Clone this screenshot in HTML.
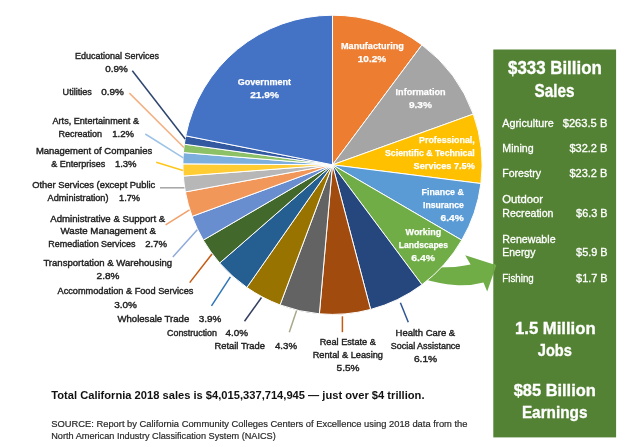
<!DOCTYPE html>
<html><head><meta charset="utf-8"><style>
html,body{margin:0;padding:0;background:#fff;width:640px;height:447px;overflow:hidden}
svg{display:block;filter:blur(0.7px)}
text{font-family:"Liberation Sans",sans-serif;white-space:pre}
.lab{font-size:9.3px;fill:#222;stroke:#222;stroke-width:0.4px}
.in{font-size:9.3px;font-weight:bold;fill:#fff;stroke:#fff;stroke-width:0.25px}
.bh{font-size:18.3px;font-weight:bold;fill:#fff;stroke:#fff;stroke-width:0.35px}
.bi{font-size:10.6px;fill:#fff;stroke:#fff;stroke-width:0.3px}
.bb{font-size:17px;font-weight:bold;fill:#fff;stroke:#fff;stroke-width:0.35px}
.tot{font-size:11px;font-weight:bold;fill:#111}
.src{font-size:9.3px;fill:#2a2a2a;stroke:#2a2a2a;stroke-width:0.2px}
</style></head><body>
<svg width="640" height="447" viewBox="0 0 640 447">
<rect width="640" height="447" fill="#fff"/>
<path d="M420,268 L455,267.1 Q464,266 470.6,264.6 L465.2,255.3 L496.3,265.3 L487.2,291.5 L483.5,282.4 Q470,286 455,285 Q440,284 420,278 Z" fill="#70AD47"/>
<g stroke="#fff" stroke-width="1" stroke-linejoin="round">
<path d="M332.50,164.80L332.50,15.20A149.6,149.6 0 0 1 421.95,44.89Z" fill="#ED7D31"/>
<path d="M332.50,164.80L421.95,44.89A149.6,149.6 0 0 1 473.26,114.12Z" fill="#A5A5A5"/>
<path d="M332.50,164.80L473.26,114.12A149.6,149.6 0 0 1 480.92,183.55Z" fill="#FFC000"/>
<path d="M332.50,164.80L480.92,183.55A149.6,149.6 0 0 1 461.74,240.14Z" fill="#5B9BD5"/>
<path d="M332.50,164.80L461.74,240.14A149.6,149.6 0 0 1 421.95,284.71Z" fill="#70AD47"/>
<path d="M332.50,164.80L421.95,284.71A149.6,149.6 0 0 1 370.61,309.46Z" fill="#25477D"/>
<path d="M332.50,164.80L370.61,309.46A149.6,149.6 0 0 1 319.36,313.82Z" fill="#A24B0F"/>
<path d="M332.50,164.80L319.36,313.82A149.6,149.6 0 0 1 280.06,304.91Z" fill="#636363"/>
<path d="M332.50,164.80L280.06,304.91A149.6,149.6 0 0 1 246.86,287.46Z" fill="#997300"/>
<path d="M332.50,164.80L246.86,287.46A149.6,149.6 0 0 1 219.66,263.03Z" fill="#255E91"/>
<path d="M332.50,164.80L219.66,263.03A149.6,149.6 0 0 1 203.26,240.14Z" fill="#43682B"/>
<path d="M332.50,164.80L203.26,240.14A149.6,149.6 0 0 1 192.07,216.36Z" fill="#698ED0"/>
<path d="M332.50,164.80L192.07,216.36A149.6,149.6 0 0 1 185.38,191.91Z" fill="#F1975A"/>
<path d="M332.50,164.80L185.38,191.91A149.6,149.6 0 0 1 183.33,176.07Z" fill="#B7B7B7"/>
<path d="M332.50,164.80L183.33,176.07A149.6,149.6 0 0 1 182.90,163.86Z" fill="#FFCD33"/>
<path d="M332.50,164.80L182.90,163.86A149.6,149.6 0 0 1 183.40,152.59Z" fill="#7CAFDD"/>
<path d="M332.50,164.80L183.40,152.59A149.6,149.6 0 0 1 184.33,144.19Z" fill="#8CC168"/>
<path d="M332.50,164.80L184.33,144.19A149.6,149.6 0 0 1 185.73,135.84Z" fill="#335AA1"/>
<path d="M332.50,164.80L185.73,135.84A149.6,149.6 0 0 1 332.50,15.20Z" fill="#4472C4"/>
</g>
<line x1="132.3" y1="70.7" x2="185.2" y2="139.0" stroke="#2E4570" stroke-width="1.5"/>
<line x1="129.4" y1="93.1" x2="183.9" y2="147.5" stroke="#F4B183" stroke-width="1.5"/>
<line x1="145.3" y1="134.0" x2="183.3" y2="157.8" stroke="#9DC3E6" stroke-width="1.5"/>
<line x1="156.25" y1="162.3" x2="183.0" y2="170.5" stroke="#FFC61A" stroke-width="1.5"/>
<line x1="160.0" y1="187.8" x2="184.4" y2="187.8" stroke="#A5A5A5" stroke-width="1.5"/>
<line x1="165.6" y1="224.9" x2="189.5" y2="209.8" stroke="#F0A06A" stroke-width="1.5"/>
<line x1="172.8" y1="257.1" x2="197.3" y2="229.8" stroke="#8FAADC" stroke-width="1.5"/>
<line x1="189.7" y1="282.6" x2="212.0" y2="254.0" stroke="#C55A11" stroke-width="1.5"/>
<line x1="211.5" y1="305.8" x2="230.4" y2="276.8" stroke="#2E75B6" stroke-width="1.5"/>
<line x1="244.5" y1="321.25" x2="261.5" y2="297.5" stroke="#333F60" stroke-width="1.5"/>
<line x1="289.3" y1="332.2" x2="296.6" y2="310.5" stroke="#A9A98A" stroke-width="1.5"/>
<line x1="342.4" y1="316.3" x2="342.4" y2="332.2" stroke="#C55A11" stroke-width="1.5"/>
<line x1="400.4" y1="302.7" x2="408.3" y2="322.3" stroke="#2F5597" stroke-width="1.5"/>
<rect x="493.3" y="49.5" width="122.8" height="387.9" fill="#548235"/>
<path d="M493.3,263.2 L496.3,265.3 L493.3,274.2 Z" fill="#70AD47"/>
<text id="t0" class="lab" x="74.90" y="58.80" textLength="84.00" lengthAdjust="spacingAndGlyphs">Educational Services</text>
<text id="t1" class="lab" x="105.30" y="72.00" textLength="22.50" lengthAdjust="spacingAndGlyphs">0.9%</text>
<text id="t2" class="lab" x="62.60" y="94.90" textLength="29.20" lengthAdjust="spacingAndGlyphs">Utilities</text>
<text id="t3" class="lab" x="101.25" y="94.90" textLength="22.65" lengthAdjust="spacingAndGlyphs">0.9%</text>
<text id="t4" class="lab" x="52.50" y="124.20" textLength="86.50" lengthAdjust="spacingAndGlyphs">Arts, Entertainment &amp;</text>
<text id="t5" class="lab" x="58.40" y="136.80" textLength="43.70" lengthAdjust="spacingAndGlyphs">Recreation</text>
<text id="t6" class="lab" x="112.30" y="136.80" textLength="21.70" lengthAdjust="spacingAndGlyphs">1.2%</text>
<text id="t7" class="lab" x="35.90" y="154.40" textLength="116.30" lengthAdjust="spacingAndGlyphs">Management of Companies</text>
<text id="t8" class="lab" x="51.20" y="166.90" textLength="54.00" lengthAdjust="spacingAndGlyphs">&amp; Enterprises</text>
<text id="t9" class="lab" x="114.90" y="166.90" textLength="21.70" lengthAdjust="spacingAndGlyphs">1.3%</text>
<text id="t10" class="lab" x="32.20" y="188.30" textLength="123.10" lengthAdjust="spacingAndGlyphs">Other Services (except Public</text>
<text id="t11" class="lab" x="47.60" y="201.20" textLength="60.90" lengthAdjust="spacingAndGlyphs">Administration)</text>
<text id="t12" class="lab" x="119.00" y="201.20" textLength="21.10" lengthAdjust="spacingAndGlyphs">1.7%</text>
<text id="t13" class="lab" x="50.30" y="221.60" textLength="115.00" lengthAdjust="spacingAndGlyphs">Administrative &amp; Support &amp;</text>
<text id="t14" class="lab" x="60.60" y="234.20" textLength="95.40" lengthAdjust="spacingAndGlyphs">Waste Management &amp;</text>
<text id="t15" class="lab" x="48.30" y="246.90" textLength="87.20" lengthAdjust="spacingAndGlyphs">Remediation Services</text>
<text id="t16" class="lab" x="145.30" y="246.90" textLength="21.80" lengthAdjust="spacingAndGlyphs">2.7%</text>
<text id="t17" class="lab" x="43.40" y="265.75" textLength="128.80" lengthAdjust="spacingAndGlyphs">Transportation &amp; Warehousing</text>
<text id="t18" class="lab" x="96.60" y="278.75" textLength="22.80" lengthAdjust="spacingAndGlyphs">2.8%</text>
<text id="t19" class="lab" x="57.50" y="294.30" textLength="135.90" lengthAdjust="spacingAndGlyphs">Accommodation &amp; Food Services</text>
<text id="t20" class="lab" x="114.25" y="307.50" textLength="22.75" lengthAdjust="spacingAndGlyphs">3.0%</text>
<text id="t21" class="lab" x="117.50" y="321.75" textLength="71.75" lengthAdjust="spacingAndGlyphs">Wholesale Trade</text>
<text id="t22" class="lab" x="198.75" y="321.75" textLength="22.50" lengthAdjust="spacingAndGlyphs">3.9%</text>
<text id="t23" class="lab" x="167.00" y="335.50" textLength="50.00" lengthAdjust="spacingAndGlyphs">Construction</text>
<text id="t24" class="lab" x="225.50" y="335.50" textLength="22.50" lengthAdjust="spacingAndGlyphs">4.0%</text>
<text id="t25" class="lab" x="214.50" y="348.60" textLength="50.50" lengthAdjust="spacingAndGlyphs">Retail Trade</text>
<text id="t26" class="lab" x="275.00" y="348.60" textLength="22.00" lengthAdjust="spacingAndGlyphs">4.3%</text>
<text id="t27" class="lab" x="319.70" y="345.00" textLength="56.20" lengthAdjust="spacingAndGlyphs">Real Estate &amp;</text>
<text id="t28" class="lab" x="312.70" y="358.00" textLength="70.30" lengthAdjust="spacingAndGlyphs">Rental &amp; Leasing</text>
<text id="t29" class="lab" x="336.60" y="370.75" textLength="23.00" lengthAdjust="spacingAndGlyphs">5.5%</text>
<text id="t30" class="lab" x="395.60" y="336.30" textLength="59.60" lengthAdjust="spacingAndGlyphs">Health Care &amp;</text>
<text id="t31" class="lab" x="390.80" y="349.25" textLength="69.50" lengthAdjust="spacingAndGlyphs">Social Assistance</text>
<text id="t32" class="lab" x="413.90" y="362.30" textLength="23.30" lengthAdjust="spacingAndGlyphs">6.1%</text>
<text id="t33" class="in" x="237.70" y="85.00" textLength="53.40" lengthAdjust="spacingAndGlyphs">Government</text>
<text id="t34" class="in" x="250.20" y="98.00" textLength="28.80" lengthAdjust="spacingAndGlyphs">21.9%</text>
<text id="t35" class="in" x="341.00" y="49.00" textLength="62.80" lengthAdjust="spacingAndGlyphs">Manufacturing</text>
<text id="t36" class="in" x="357.80" y="62.00" textLength="28.45" lengthAdjust="spacingAndGlyphs">10.2%</text>
<text id="t37" class="in" x="395.60" y="94.50" textLength="50.00" lengthAdjust="spacingAndGlyphs">Information</text>
<text id="t38" class="in" x="408.90" y="107.50" textLength="23.10" lengthAdjust="spacingAndGlyphs">9.3%</text>
<text id="t39" class="in" x="419.00" y="143.30" textLength="55.80" lengthAdjust="spacingAndGlyphs">Professional,</text>
<text id="t40" class="in" x="385.00" y="156.20" textLength="89.80" lengthAdjust="spacingAndGlyphs">Scientific &amp; Technical</text>
<text id="t41" class="in" x="413.60" y="168.60" textLength="61.20" lengthAdjust="spacingAndGlyphs">Services 7.5%</text>
<text id="t42" class="in" x="421.60" y="195.20" textLength="42.20" lengthAdjust="spacingAndGlyphs">Finance &amp;</text>
<text id="t43" class="in" x="423.00" y="208.10" textLength="40.80" lengthAdjust="spacingAndGlyphs">Insurance</text>
<text id="t44" class="in" x="440.60" y="221.00" textLength="23.20" lengthAdjust="spacingAndGlyphs">6.4%</text>
<text id="t45" class="in" x="405.60" y="235.25" textLength="35.65" lengthAdjust="spacingAndGlyphs">Working</text>
<text id="t46" class="in" x="398.75" y="248.10" textLength="49.35" lengthAdjust="spacingAndGlyphs">Landscapes</text>
<text id="t47" class="in" x="411.25" y="261.25" textLength="23.75" lengthAdjust="spacingAndGlyphs">6.4%</text>
<text id="t48" class="bh" x="508.00" y="73.75" textLength="93.75" lengthAdjust="spacingAndGlyphs">$333 Billion</text>
<text id="t49" class="bh" x="534.50" y="96.60" textLength="40.00" lengthAdjust="spacingAndGlyphs">Sales</text>
<text id="t50" class="bi" x="502.30" y="127.30" textLength="51.40" lengthAdjust="spacingAndGlyphs">Agriculture</text>
<text id="t51" class="bi" x="562.70" y="127.30" textLength="44.70" lengthAdjust="spacingAndGlyphs">$263.5 B</text>
<text id="t52" class="bi" x="502.30" y="152.20" textLength="31.30" lengthAdjust="spacingAndGlyphs">Mining</text>
<text id="t53" class="bi" x="569.40" y="152.20" textLength="38.00" lengthAdjust="spacingAndGlyphs">$32.2 B</text>
<text id="t54" class="bi" x="502.30" y="177.10" textLength="38.70" lengthAdjust="spacingAndGlyphs">Forestry</text>
<text id="t55" class="bi" x="569.40" y="177.10" textLength="38.00" lengthAdjust="spacingAndGlyphs">$23.2 B</text>
<text id="t56" class="bi" x="502.30" y="203.30" textLength="40.80" lengthAdjust="spacingAndGlyphs">Outdoor</text>
<text id="t57" class="bi" x="502.30" y="217.20" textLength="51.20" lengthAdjust="spacingAndGlyphs">Recreation</text>
<text id="t58" class="bi" x="576.10" y="217.20" textLength="31.50" lengthAdjust="spacingAndGlyphs">$6.3 B</text>
<text id="t59" class="bi" x="502.30" y="242.50" textLength="53.30" lengthAdjust="spacingAndGlyphs">Renewable</text>
<text id="t60" class="bi" x="502.30" y="256.20" textLength="33.10" lengthAdjust="spacingAndGlyphs">Energy</text>
<text id="t61" class="bi" x="576.10" y="256.20" textLength="31.50" lengthAdjust="spacingAndGlyphs">$5.9 B</text>
<text id="t62" class="bi" x="502.30" y="281.80" textLength="31.45" lengthAdjust="spacingAndGlyphs">Fishing</text>
<text id="t63" class="bi" x="576.10" y="281.80" textLength="31.50" lengthAdjust="spacingAndGlyphs">$1.7 B</text>
<text id="t64" class="bb" x="515.00" y="334.20" textLength="80.60" lengthAdjust="spacingAndGlyphs">1.5 Million</text>
<text id="t65" class="bb" x="537.80" y="355.90" textLength="34.10" lengthAdjust="spacingAndGlyphs">Jobs</text>
<text id="t66" class="bb" x="513.70" y="396.00" textLength="82.10" lengthAdjust="spacingAndGlyphs">$85 Billion</text>
<text id="t67" class="bb" x="521.90" y="417.50" textLength="65.60" lengthAdjust="spacingAndGlyphs">Earnings</text>
<text id="t68" class="tot" x="51.25" y="398.75" textLength="373.25" lengthAdjust="spacingAndGlyphs">Total California 2018 sales is $4,015,337,714,945 — just over $4 trillion.</text>
<text id="t69" class="src" x="51.25" y="426.90" textLength="416.25" lengthAdjust="spacingAndGlyphs">SOURCE: Report by California Community Colleges Centers of Excellence using 2018 data from the</text>
<text id="t70" class="src" x="51.25" y="439.00" textLength="224.50" lengthAdjust="spacingAndGlyphs">North American Industry Classification System (NAICS)</text>
</svg></body></html>
